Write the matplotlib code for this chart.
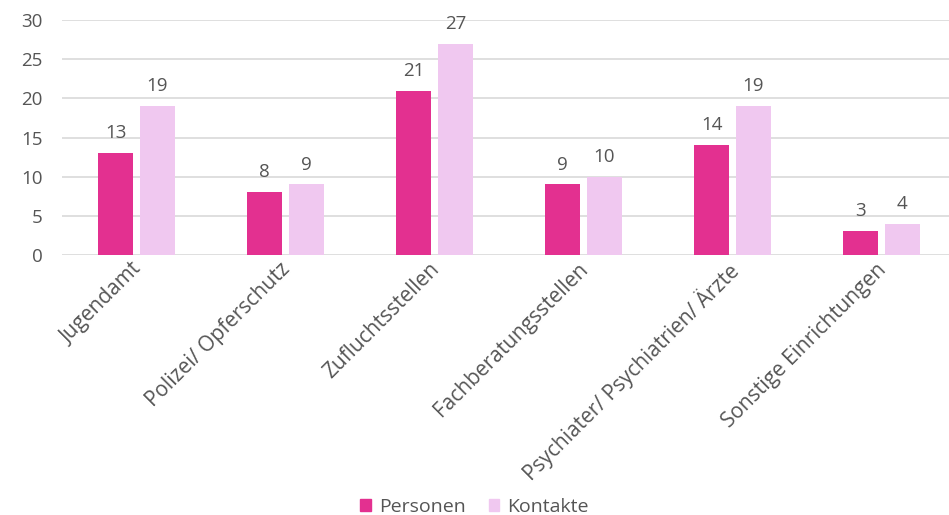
import matplotlib.pyplot as plt
import matplotlib.transforms as mtrans
import numpy as np
from matplotlib.patches import Patch

plt.rcParams['font.family'] = ['Open Sans', 'DejaVu Sans']

categories = ['Jugendamt', 'Polizei/ Opferschutz', 'Zufluchtsstellen',
              'Fachberatungsstellen', 'Psychiater/ Psychiatrien/ Ärzte',
              'Sonstige Einrichtungen']
personen = [13, 8, 21, 9, 14, 3]
kontakte = [19, 9, 27, 10, 19, 4]

c_pers = '#E33090'
c_kont = '#F0C8F0'
txt = '#555555'

fig = plt.figure(figsize=(9.49, 5.15), dpi=100)
ax = fig.add_axes([0.0655, 0.505, 0.942, 0.456])

x = np.arange(len(categories))
w = 0.235
gap = 0.045
b1 = ax.bar(x - (w + gap) / 2, personen, w, color=c_pers, zorder=3)
b2 = ax.bar(x + (w + gap) / 2, kontakte, w, color=c_kont, zorder=3)

for bars in (b1, b2):
    for r in bars:
        ax.text(r.get_x() + r.get_width() / 2, r.get_height() + 1.4,
                '%d' % r.get_height(), ha='center', va='bottom',
                fontsize=13.5, color=txt)

ax.set_ylim(0, 30)
ax.set_xlim(-0.5, len(categories) - 0.5)
ax.set_yticks(range(0, 31, 5))
ax.yaxis.grid(True, color='#D9D9D9', lw=1.2, zorder=0)
for s in ax.spines.values():
    s.set_visible(False)
ax.tick_params(axis='both', length=0, labelsize=13.5, colors=txt)
ax.tick_params(axis='y', pad=14)
ax.set_xticks(x)
ax.set_xticklabels(categories, rotation=45, ha='right',
                   rotation_mode='anchor', fontsize=15, color=txt)
ax.tick_params(axis='x', pad=3)
# nudge rotated labels a bit to the left
shift = mtrans.ScaledTranslation(-6 / 100, 0, fig.dpi_scale_trans)
for lab in ax.get_xticklabels():
    lab.set_transform(lab.get_transform() + shift)

handles = [Patch(color=c_pers, label='Personen'),
           Patch(color=c_kont, label='Kontakte')]
fig.legend(handles=handles, loc='lower center', ncol=2, frameon=False,
           bbox_to_anchor=(0.5, -0.035), fontsize=14, labelcolor=txt,
           handlelength=0.55, handleheight=0.55, handletextpad=0.4,
           columnspacing=1.2)

fig.savefig('out.png', dpi=100)
